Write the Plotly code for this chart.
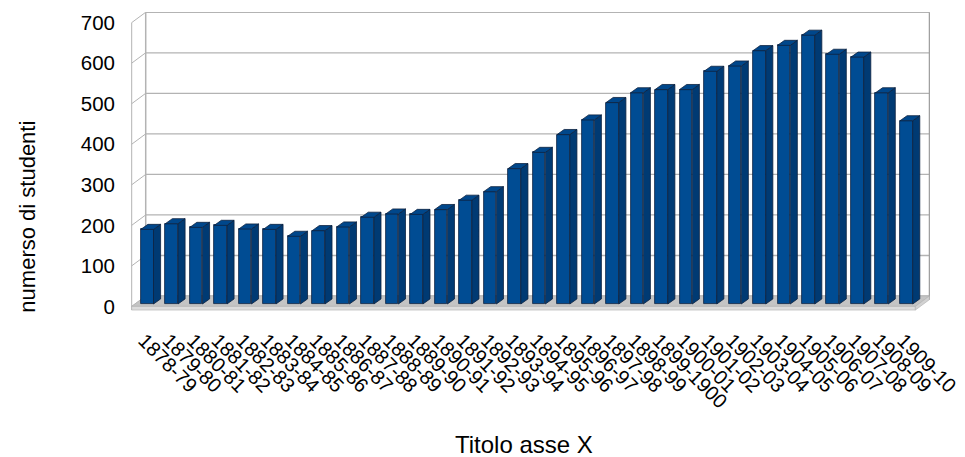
import plotly.graph_objects as go

# Enrolment per academic year
years = [
    "1878-79", "1879-80", "1880-81", "1881-82", "1882-83", "1883-84", "1884-85",
    "1885-86", "1886-87", "1887-88", "1888-89", "1889-90", "1890-91", "1891-92",
    "1892-93", "1893-94", "1894-95", "1895-96", "1896-97", "1897-98", "1898-99",
    "1899-1900", "1900-01", "1901-02", "1902-03", "1903-04", "1904-05", "1905-06",
    "1906-07", "1907-08", "1908-09", "1909-10",
]
students = [
    184, 198, 189, 194, 185, 184, 167, 181, 190, 214, 222, 221, 233, 256, 277, 334,
    374, 418, 454, 497, 521, 529, 529, 574, 587, 625, 638, 663, 616, 609, 521, 452,
]
y_ticks = [0, 100, 200, 300, 400, 500, 600, 700]

# pseudo-3D box geometry (data units)
BOX_X0, BOX_X1 = -0.5, len(years) - 0.5
DEPTH_X, DEPTH_Y = 0.572, 25.6        # full depth of the box
FLOOR_T = 9.0                          # floor slab thickness
BAR_DX, BAR_LIFT = 0.13, 5.9           # bar front face set back into the box
BAR_W = 0.52
BAR_DDX, BAR_DDY = 0.29, 12.5          # bar depth
Y_TOP = max(y_ticks)

FRONT = "#004c93"
SIDE = "#003a73"
TOP = "#00478b"
EDGE = "#0d2240"
GRID = "#b3b3b3"
FONT = "Liberation Sans, Arial, sans-serif"

fig = go.Figure()

# side and top faces of each bar
sx, sy, tx, ty = [], [], [], []
for i, v in enumerate(students):
    xl = i + BAR_DX - BAR_W / 2
    xr = i + BAR_DX + BAR_W / 2
    b = BAR_LIFT
    h = BAR_LIFT + v
    sx += [xr, xr + BAR_DDX, xr + BAR_DDX, xr, xr, None]
    sy += [b, b + BAR_DDY, h + BAR_DDY, h, b, None]
    tx += [xl, xr, xr + BAR_DDX, xl + BAR_DDX, xl, None]
    ty += [h, h, h + BAR_DDY, h + BAR_DDY, h, None]

fig.add_trace(go.Scatter(x=sx, y=sy, mode="lines", fill="toself", fillcolor=SIDE,
                         line=dict(color=EDGE, width=0.8), hoverinfo="skip", showlegend=False))
fig.add_trace(go.Scatter(x=tx, y=ty, mode="lines", fill="toself", fillcolor=TOP,
                         line=dict(color=EDGE, width=0.8), hoverinfo="skip", showlegend=False))
fig.add_trace(go.Bar(
    x=[i + BAR_DX for i in range(len(years))], y=students, base=BAR_LIFT, width=BAR_W,
    marker=dict(color=FRONT, line=dict(color=EDGE, width=0.8)),
    customdata=years, hovertemplate="%{customdata}: %{y}<extra></extra>", showlegend=False,
))

shapes = []
bx0, bx1 = BOX_X0 + DEPTH_X, BOX_X1 + DEPTH_X
# back wall and left wall
shapes.append(dict(type="path", layer="below", line=dict(width=0), fillcolor="white",
                   path=f"M{BOX_X0},0 L{bx0},{DEPTH_Y} L{bx0},{Y_TOP + DEPTH_Y} L{BOX_X0},{Y_TOP} Z"))
for v in y_ticks:
    shapes.append(dict(type="line", layer="below", x0=bx0, x1=bx1, y0=v + DEPTH_Y, y1=v + DEPTH_Y,
                       line=dict(color=GRID, width=1.3)))
    shapes.append(dict(type="line", layer="below", x0=BOX_X0, x1=bx0, y0=v, y1=v + DEPTH_Y,
                       line=dict(color=GRID, width=1)))
shapes.append(dict(type="line", layer="below", x0=bx0, x1=bx0, y0=DEPTH_Y, y1=Y_TOP + DEPTH_Y,
                   line=dict(color=GRID, width=1.5)))
shapes.append(dict(type="line", layer="below", x0=bx1, x1=bx1, y0=DEPTH_Y - FLOOR_T, y1=Y_TOP + DEPTH_Y,
                   line=dict(color="#a0a0a0", width=1.3)))
shapes.append(dict(type="line", layer="below", x0=BOX_X0, x1=BOX_X0, y0=-FLOOR_T, y1=Y_TOP,
                   line=dict(color=GRID, width=1)))
# floor slab: top, front, right side
shapes.append(dict(type="path", layer="below", line=dict(color="#b0b0b0", width=0.6), fillcolor="#c4c4c4",
                   path=f"M{BOX_X0},0 L{BOX_X1},0 L{bx1},{DEPTH_Y} L{bx0},{DEPTH_Y} Z"))
shapes.append(dict(type="path", layer="below", line=dict(color="#b0b0b0", width=0.6), fillcolor="#dcdcdc",
                   path=f"M{BOX_X0},0 L{BOX_X1},0 L{BOX_X1},{-FLOOR_T} L{BOX_X0},{-FLOOR_T} Z"))
shapes.append(dict(type="path", layer="below", line=dict(color="#b0b0b0", width=0.6), fillcolor="#d2d2d2",
                   path=f"M{BOX_X1},0 L{bx1},{DEPTH_Y} L{bx1},{DEPTH_Y - FLOOR_T} L{BOX_X1},{-FLOOR_T} Z"))

fig.update_layout(
    width=965, height=457,
    margin=dict(l=131, r=35, t=12, b=146, autoexpand=False),
    paper_bgcolor="white", plot_bgcolor="white",
    shapes=shapes,
    font=dict(family=FONT, color="black", size=20),
    bargap=0,
    xaxis=dict(range=[-0.5286, 32.097], tickvals=list(range(len(years))), ticktext=years,
               tickangle=45, showgrid=False, zeroline=False, showline=False, ticks="",
               tickfont=dict(size=20), ticklabelstandoff=13, automargin=False, fixedrange=True),
    yaxis=dict(range=[-11.35, 726.2], tickvals=y_ticks, showgrid=False, zeroline=False,
               showline=False, ticks="", tickfont=dict(size=20.5), ticklabelstandoff=15,
               automargin=False, fixedrange=True),
    annotations=[
        dict(text="Titolo asse X", xref="paper", yref="paper", x=0.4919, y=-0.448,
             xanchor="center", yanchor="middle", showarrow=False, font=dict(size=24)),
        dict(text="numerso di studenti", xref="paper", yref="paper", x=-0.130, y=0.316,
             xanchor="center", yanchor="middle", textangle=-90, showarrow=False,
             font=dict(size=22)),
    ],
)

fig.write_html("out.html")
